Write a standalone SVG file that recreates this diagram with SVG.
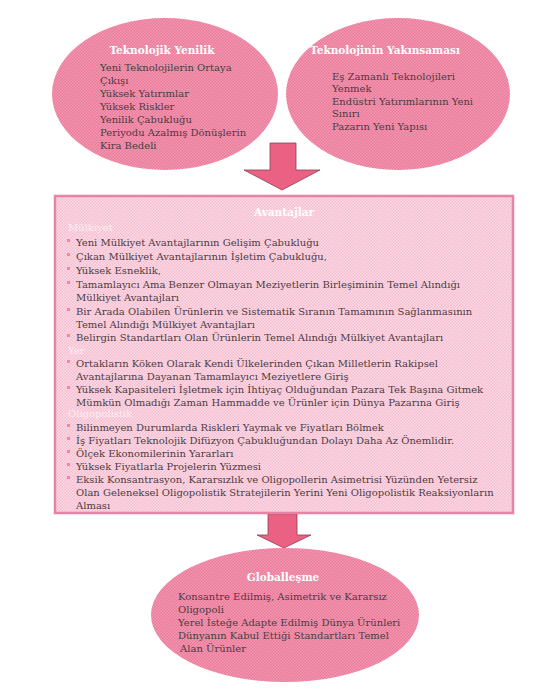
<svg xmlns="http://www.w3.org/2000/svg" width="558" height="699" viewBox="0 0 558 699">
<defs>
<pattern id="chkE" width="3" height="3" patternUnits="userSpaceOnUse">
<rect width="3" height="3" fill="#ea7899"/>
<rect width="1.5" height="1.5" fill="#f29ab4"/>
<rect x="1.5" y="1.5" width="1.5" height="1.5" fill="#f29ab4"/>
</pattern>
<pattern id="chkB" width="3" height="3" patternUnits="userSpaceOnUse">
<rect width="3" height="3" fill="#f6bccf"/>
<rect width="1.5" height="1.5" fill="#fcdde7"/>
<rect x="1.5" y="1.5" width="1.5" height="1.5" fill="#fcdde7"/>
</pattern>
</defs>
<style>
.ell{fill:url(#chkE);}
.box{fill:url(#chkB);stroke:#e883a3;stroke-width:2.5;}
.arr{fill:#ea6183;stroke:#8a4052;stroke-width:0.8;}
.t{font-family:"DejaVu Serif","Liberation Serif",serif;font-size:10px;fill:#4d3c43;}
.h{font-family:"DejaVu Serif","Liberation Serif",serif;font-size:10.5px;font-weight:bold;fill:#ffffff;text-anchor:middle;}
.s{font-family:"DejaVu Serif","Liberation Serif",serif;font-size:10px;fill:#fdeef3;}
.b{fill:#f584a6;}
</style>
<rect width="558" height="699" fill="#ffffff"/>
<g id="connectors">
<path class="arr" d="M270,143 H296 V170 H320 L282,190 L244,170 H270 Z"/>
<path class="arr" d="M268,514 H297 V535 H311 L284,548 L257,535 H268 Z"/>
</g>
<g id="teknolojik-yenilik">
<ellipse class="ell" cx="165" cy="94" rx="113" ry="76"/>
<text class="h" x="162" y="54">Teknolojik Yenilik</text>
<g class="b"><rect x="92" y="64" width="3" height="3"/><rect x="92" y="90" width="3" height="3"/><rect x="92" y="103" width="3" height="3"/><rect x="92" y="116" width="3" height="3"/><rect x="92" y="129" width="3" height="3"/></g>
<text class="t" x="100" y="71">Yeni Teknolojilerin Ortaya</text>
<text class="t" x="100" y="84">Çıkışı</text>
<text class="t" x="100" y="97">Yüksek Yatırımlar</text>
<text class="t" x="100" y="110">Yüksek Riskler</text>
<text class="t" x="100" y="123">Yenilik Çabukluğu</text>
<text class="t" x="100" y="136">Periyodu Azalmış Dönüşlerin</text>
<text class="t" x="100" y="149">Kira Bedeli</text>
</g>
<g id="teknolojinin-yakinsamasi">
<ellipse class="ell" cx="398" cy="94" rx="112" ry="76"/>
<text class="h" x="385" y="54">Teknolojinin Yakınsaması</text>
<g class="b"><rect x="325" y="73" width="3" height="3"/><rect x="325" y="98" width="3" height="3"/><rect x="325" y="123" width="3" height="3"/></g>
<text class="t" x="332" y="80">Eş Zamanlı Teknolojileri</text>
<text class="t" x="332" y="92">Yenmek</text>
<text class="t" x="332" y="105">Endüstri Yatırımlarının Yeni</text>
<text class="t" x="332" y="117">Sınırı</text>
<text class="t" x="332" y="130">Pazarın Yeni Yapısı</text>
</g>
<g id="avantajlar">
<rect class="box" x="55" y="196" width="458" height="317"/>
<text class="h" x="284" y="216">Avantajlar</text>
<text class="s" x="68" y="231">Mülkiyet</text>
<g class="b">
<rect x="67" y="239" width="3" height="3"/><rect x="67" y="253" width="3" height="3"/><rect x="67" y="267" width="3" height="3"/><rect x="67" y="281" width="3" height="3"/><rect x="67" y="308" width="3" height="3"/><rect x="67" y="334" width="3" height="3"/>
<rect x="67" y="360" width="3" height="3"/><rect x="67" y="386" width="3" height="3"/>
<rect x="67" y="424" width="3" height="3"/><rect x="67" y="437" width="3" height="3"/><rect x="67" y="450" width="3" height="3"/><rect x="67" y="463" width="3" height="3"/><rect x="67" y="476" width="3" height="3"/>
</g>
<text class="t" x="76" y="246">Yeni Mülkiyet Avantajlarının Gelişim Çabukluğu</text>
<text class="t" x="76" y="260">Çıkan Mülkiyet Avantajlarının İşletim Çabukluğu,</text>
<text class="t" x="76" y="274">Yüksek Esneklik,</text>
<text class="t" x="76" y="288">Tamamlayıcı Ama Benzer Olmayan Meziyetlerin Birleşiminin Temel Alındığı</text>
<text class="t" x="76" y="301">Mülkiyet Avantajları</text>
<text class="t" x="76" y="315">Bir Arada Olabilen Ürünlerin ve Sistematik Sıranın Tamamının Sağlanmasının</text>
<text class="t" x="76" y="328">Temel Alındığı Mülkiyet Avantajları</text>
<text class="t" x="76" y="341">Belirgin Standartları Olan Ürünlerin Temel Alındığı Mülkiyet Avantajları</text>
<text class="s" x="68" y="354">Yer</text>
<text class="t" x="76" y="367">Ortakların Köken Olarak Kendi Ülkelerinden Çıkan Milletlerin Rakipsel</text>
<text class="t" x="76" y="380">Avantajlarına Dayanan Tamamlayıcı Meziyetlere Giriş</text>
<text class="t" x="76" y="393">Yüksek Kapasiteleri İşletmek için İhtiyaç Olduğundan Pazara Tek Başına Gitmek</text>
<text class="t" x="76" y="406">Mümkün Olmadığı Zaman Hammadde ve Ürünler için Dünya Pazarına Giriş</text>
<text class="s" x="68" y="417">Oligopolistik</text>
<text class="t" x="76" y="431">Bilinmeyen Durumlarda Riskleri Yaymak ve Fiyatları Bölmek</text>
<text class="t" x="76" y="444">İş Fiyatları Teknolojik Difüzyon Çabukluğundan Dolayı Daha Az Önemlidir.</text>
<text class="t" x="76" y="457">Ölçek Ekonomilerinin Yararları</text>
<text class="t" x="76" y="470">Yüksek Fiyatlarla Projelerin Yüzmesi</text>
<text class="t" x="76" y="483">Eksik Konsantrasyon, Kararsızlık ve Oligopollerin Asimetrisi Yüzünden Yetersiz</text>
<text class="t" x="76" y="496">Olan Geleneksel Oligopolistik Stratejilerin Yerini Yeni Oligopolistik Reaksiyonların</text>
<text class="t" x="76" y="509">Alması</text>
</g>
<g id="globallesme">
<ellipse class="ell" cx="285" cy="615" rx="134" ry="67"/>
<text class="h" x="283" y="581">Globalleşme</text>
<g class="b"><rect x="171" y="593" width="3" height="3"/><rect x="171" y="619" width="3" height="3"/><rect x="171" y="632" width="3" height="3"/></g>
<text class="t" x="178" y="600">Konsantre Edilmiş, Asimetrik ve Kararsız</text>
<text class="t" x="178" y="613">Oligopoli</text>
<text class="t" x="178" y="626">Yerel İsteğe Adapte Edilmiş Dünya Ürünleri</text>
<text class="t" x="178" y="639">Dünyanın Kabul Ettiği Standartları Temel</text>
<text class="t" x="180" y="652">Alan Ürünler</text>
</g>
</svg>
